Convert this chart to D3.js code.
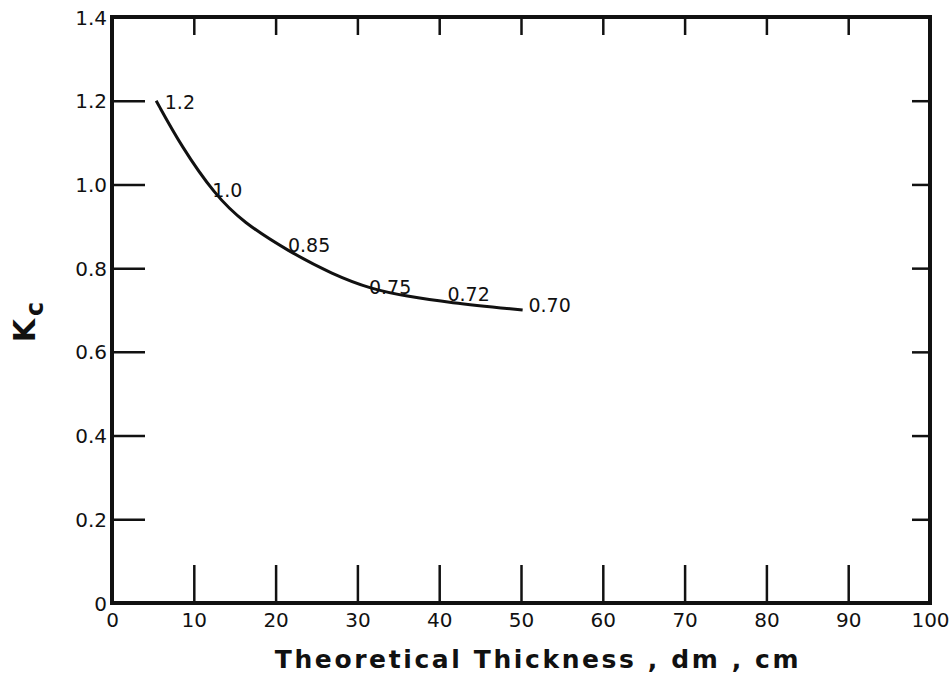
<!DOCTYPE html>
<html>
<head>
<meta charset="utf-8">
<script src="https://cdn.jsdelivr.net/npm/d3@7"></script>
<style>
  body { margin: 0; background: #fff; }
  text { font-family: "DejaVu Sans", sans-serif; fill: #111; }
</style>
</head>
<body>
<svg width="952" height="681"></svg>
<script>
// curve: theoretical thickness (cm) vs Kc
let thickness = [5.4, 8.5, 12.6, 16.0, 21.6, 27.0, 31.7, 36.0, 41.0, 50.2];
let kc = [1.20, 1.09, 0.975, 0.91, 0.84, 0.785, 0.750, 0.733, 0.718, 0.700];
// labels written along the curve
let labelText = ["1.2", "1.0", "0.85", "0.75", "0.72", "0.70"];
let labelX = [8.3, 14.1, 24.1, 34.0, 43.6, 53.5];
let labelY = [1.195, 0.985, 0.855, 0.755, 0.737, 0.710];
let xTicks = [0, 10, 20, 30, 40, 50, 60, 70, 80, 90, 100];
let yTicks = [0, 0.2, 0.4, 0.6, 0.8, 1.0, 1.2, 1.4];

let svg = d3.select("svg");
let margin = { top: 17, right: 22, bottom: 78, left: 112 };
let width = +svg.attr("width") - margin.left - margin.right;
let height = +svg.attr("height") - margin.top - margin.bottom;
let g = svg.append("g").attr("transform", "translate(" + margin.left + "," + margin.top + ")");

let x = d3.scaleLinear().domain([0, 100]).range([0, width]);
let y = d3.scaleLinear().domain([0, 1.4]).range([height, 0]);

let yFmt = d => d === 0 ? "0" : d3.format(".1f")(d);

// ticks drawn inward, labels outside
let axBottom = d3.axisBottom(x).tickValues(xTicks).tickSize(-38).tickPadding(7).tickFormat(d3.format("d"));
let axTop = d3.axisTop(x).tickValues(xTicks.slice(1, -1)).tickSize(-18).tickFormat("");
let axLeft = d3.axisLeft(y).tickValues(yTicks).tickSize(-33).tickPadding(5).tickFormat(yFmt);
let axRight = d3.axisRight(y).tickValues(yTicks.slice(1, -1)).tickSize(-18).tickFormat("");

function style(sel) {
  sel.select(".domain").remove();
  sel.selectAll(".tick line").attr("stroke", "#111").attr("stroke-width", 2.5);
  sel.selectAll(".tick text").style("font-size", "20px").attr("fill", "#111");
}
g.append("g").attr("transform", "translate(0," + height + ")").call(axBottom).call(style)
  .selectAll(".tick text").attr("dy", "0.85em");
g.append("g").call(axTop).call(style);
g.append("g").call(axLeft).call(style)
  .selectAll(".tick text").attr("dy", "0.35em");
g.append("g").attr("transform", "translate(" + width + ",0)").call(axRight).call(style);

// frame
g.append("rect")
  .attr("x", 0).attr("y", 0).attr("width", width).attr("height", height)
  .attr("fill", "none").attr("stroke", "#111").attr("stroke-width", 4);

let pts = thickness.map((t, i) => [t, kc[i]]);
let line = d3.line().x(d => x(d[0])).y(d => y(d[1])).curve(d3.curveBasis);
g.append("path")
  .datum(pts)
  .attr("d", line)
  .attr("fill", "none")
  .attr("stroke", "#111")
  .attr("stroke-width", 3);

g.selectAll(".lbl")
  .data(labelText)
  .enter().append("text")
  .attr("class", "lbl")
  .attr("x", (d, i) => x(labelX[i]))
  .attr("y", (d, i) => y(labelY[i]))
  .attr("dy", "0.35em")
  .attr("text-anchor", "middle")
  .style("font-size", "19px")
  .text(d => d);

// axis titles
svg.append("text")
  .attr("x", 538).attr("y", 668)
  .attr("text-anchor", "middle")
  .style("font-size", "25px").style("font-weight", "bold").style("letter-spacing", "2.6px")
  .text("Theoretical Thickness , dm , cm");

let yl = svg.append("text")
  .attr("transform", "translate(35,322) rotate(-90)")
  .attr("text-anchor", "middle")
  .style("font-size", "30px").style("font-weight", "bold");
yl.append("tspan").text("K");
yl.append("tspan").attr("dx", "3").attr("dy", "8").style("font-size", "24px").text("c");
</script>
</body>
</html>
